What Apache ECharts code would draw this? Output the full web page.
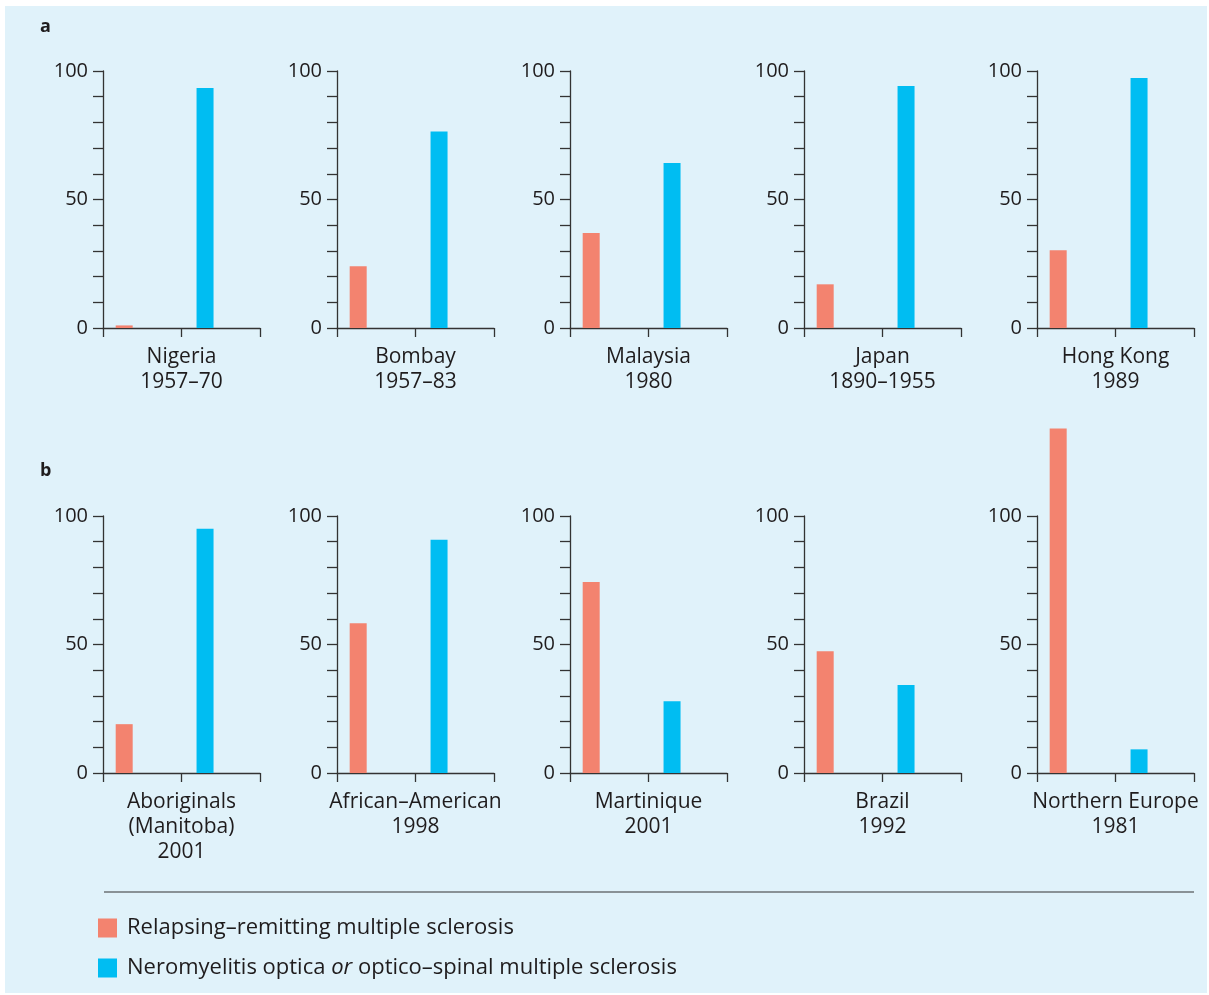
<!DOCTYPE html>
<html>
<head>
<meta charset="utf-8">
<script src="https://cdn.jsdelivr.net/npm/echarts@6/dist/echarts.min.js"></script>
<style>
  html, body { margin: 0; padding: 0; background: #ffffff; }
  #bg { position: absolute; left: 5px; top: 6px; width: 1202px; height: 987px; background: #e0f2fa; }
  #chart { position: absolute; left: 0; top: 0; width: 1209px; height: 995px; }
</style>
</head>
<body>
<div id="bg"></div>
<div id="chart"></div>
<script>
// ---- data ----
const panelLabels = [
  'Nigeria\n1957–70', 'Bombay\n1957–83', 'Malaysia\n1980', 'Japan\n1890–1955', 'Hong Kong\n1989',
  'Aboriginals\n(Manitoba)\n2001', 'African–American\n1998', 'Martinique\n2001', 'Brazil\n1992', 'Northern Europe\n1981'
];
const rrmsValues = [1, 24, 37, 17, 30.3, 19, 58.3, 74.3, 47.4, 134];
const nmoValues  = [93.4, 76.5, 64.2, 94.2, 97.3, 95, 90.8, 27.9, 34.2, 9.2];
const yTickLabels = [0, 50, 100];
const seriesNames = ['Relapsing–remitting multiple sclerosis', 'Neromyelitis optica or optico–spinal multiple sclerosis'];

// ---- layout / style ----
const textColor = '#1f1c1d';
const axisColor = '#333333';
const font = 'Open Sans';
const redColor = '#f3836f';
const blueColor = '#00bdf2';
const lefts = [103, 337, 570, 804, 1037];
const tops = [71, 516];
const gridW = 157, gridH = 257;
const barOffsets = [0.27, 0.3];

const grids = [], xAxes = [], yAxes = [], series = [];
for (let i = 0; i < panelLabels.length; i++) {
  const row = Math.floor(i / 5), col = i % 5;
  grids.push({ left: lefts[col], top: tops[row], width: gridW, height: gridH, containLabel: false });
  xAxes.push({
    gridIndex: i, type: 'value', min: 0, max: 2, interval: 1,
    axisLine: { show: true, lineStyle: { color: axisColor, width: 1.3 } },
    axisTick: { show: true, length: 9, lineStyle: { color: axisColor, width: 1.3 } },
    axisLabel: { show: false }, splitLine: { show: false },
    name: panelLabels[i], nameLocation: 'middle', nameGap: 17,
    nameTextStyle: { fontFamily: font, fontSize: 21, color: textColor, lineHeight: 25, verticalAlign: 'top' }
  });
  yAxes.push({
    gridIndex: i, type: 'value', min: 0, max: 100, interval: 10,
    axisLine: { show: true, lineStyle: { color: axisColor, width: 1.3 } },
    axisTick: { show: true, length: 10, lineStyle: { color: axisColor, width: 1.3 } },
    axisLabel: {
      margin: 15, fontFamily: font, fontSize: 20, color: textColor,
      formatter: v => (yTickLabels.indexOf(v) >= 0 ? String(v) : '')
    },
    splitLine: { show: false }
  });
  series.push({
    name: seriesNames[0], type: 'bar', xAxisIndex: i, yAxisIndex: i,
    barWidth: 17, barGap: '-100%', clip: false,
    itemStyle: { color: redColor },
    data: [[0 + barOffsets[0], rrmsValues[i]]]
  });
  series.push({
    name: seriesNames[1], type: 'bar', xAxisIndex: i, yAxisIndex: i,
    barWidth: 17, barGap: '-100%', clip: false,
    itemStyle: { color: blueColor },
    data: [[1 + barOffsets[1], nmoValues[i]]]
  });
}

const chart = echarts.init(document.getElementById('chart'), null, { renderer: 'canvas' });
chart.setOption({
  backgroundColor: 'transparent',
  animation: false,
  grid: grids, xAxis: xAxes, yAxis: yAxes, series: series,
  legend: {
    orient: 'vertical', left: 98, top: 917, padding: 0, itemWidth: 19, itemHeight: 19, itemGap: 18,
    icon: 'rect', selectedMode: false,
    data: seriesNames,
    textStyle: {
      fontFamily: font, fontSize: 22, color: textColor, padding: [0, 0, 0, 5],
      rich: {
        n: { fontFamily: font, fontSize: 22, color: textColor },
        i: { fontFamily: font, fontSize: 22, color: textColor, fontStyle: 'italic' }
      }
    },
    formatter: name => name === seriesNames[1]
      ? '{n|Neromyelitis optica }{i|or}{n| optico–spinal multiple sclerosis}'
      : name
  },
  graphic: [
    { type: 'text', left: 40, top: 18, style: { text: 'a', font: 'bold 18px "Open Sans"', fill: textColor } },
    { type: 'text', left: 40, top: 462, style: { text: 'b', font: 'bold 18px "Open Sans"', fill: textColor } },
    { type: 'line', shape: { x1: 104, y1: 892, x2: 1194, y2: 892 }, style: { stroke: axisColor, lineWidth: 1.2 } }
  ]
});
</script>
</body>
</html>
